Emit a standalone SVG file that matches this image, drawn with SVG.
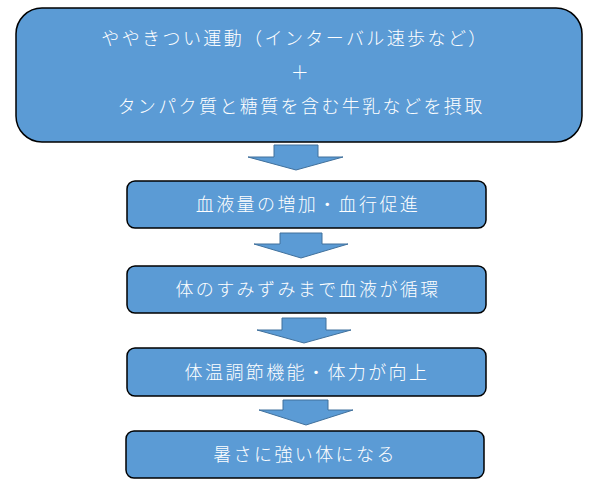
<svg xmlns="http://www.w3.org/2000/svg" width="599" height="487" viewBox="0 0 599 487">
<style>
.box{fill:#5B9BD5;stroke:#000;stroke-width:1.5}
.arr{fill:#5B9BD5;stroke:#41719C;stroke-width:1}
.t{fill:#fff;font-family:"Noto Sans CJK JP","Noto Sans CJK SC",sans-serif;font-size:18px;font-weight:300;letter-spacing:2.4px;text-anchor:middle}
</style>
<rect width="599" height="487" fill="#fff"/>
<g id="n1">
<rect class="box" x="16" y="8" width="566" height="134" rx="26"/>
<text class="t" x="295" y="45">ややきつい運動（インターバル速歩など）</text>
<text class="t" x="301" y="79">＋</text>
<text class="t" x="301" y="113">タンパク質と糖質を含む牛乳などを摂取</text>
</g>
<g id="n2">
<rect class="box" x="127" y="181" width="359" height="47" rx="8"/>
<text class="t" x="308" y="211">血液量の増加・血行促進</text>
</g>
<g id="n3">
<rect class="box" x="127" y="266" width="359" height="47" rx="8"/>
<text class="t" x="308" y="296">体のすみずみまで血液が循環</text>
</g>
<g id="n4">
<rect class="box" x="127" y="348" width="359" height="48" rx="8"/>
<text class="t" x="307" y="379">体温調節機能・体力が向上</text>
</g>
<g id="n5">
<rect class="box" x="126" y="431" width="358" height="47" rx="8"/>
<text class="t" x="305" y="461">暑さに強い体になる</text>
</g>
<g id="connectors">
<polygon class="arr" points="274,145 318,145 318,157 343,157 296,170 248,157 274,157"/>
<polygon class="arr" points="280,233 322,233 322,244 348,244 301,258 254,244 280,244"/>
<polygon class="arr" points="282,318 326,318 326,330 351,330 304,343 257,330 282,330"/>
<polygon class="arr" points="283,400 328,400 328,410 353,410 306,425 259,410 283,410"/>
</g>
</svg>
